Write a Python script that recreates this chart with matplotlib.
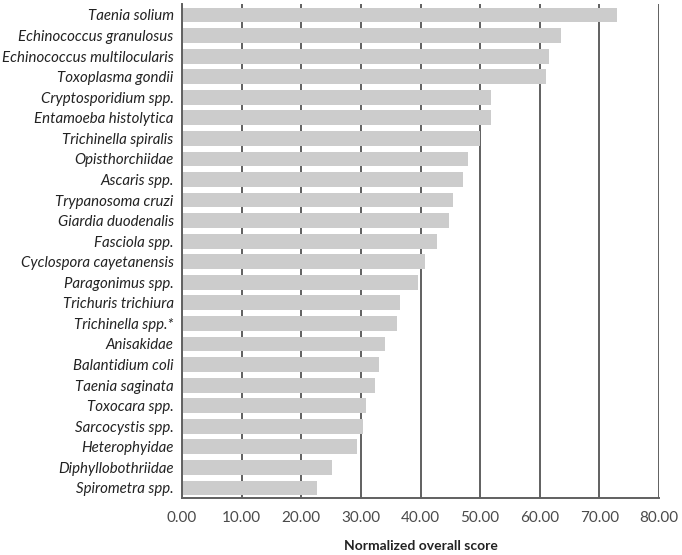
import matplotlib.pyplot as plt
import numpy as np

# === DATA ===
species = [
    "Taenia solium", "Echinococcus granulosus", "Echinococcus multilocularis",
    "Toxoplasma gondii", "Cryptosporidium spp.", "Entamoeba histolytica",
    "Trichinella spiralis", "Opisthorchiidae", "Ascaris spp.",
    "Trypanosoma cruzi", "Giardia duodenalis", "Fasciola spp.",
    "Cyclospora cayetanensis", "Paragonimus spp.", "Trichuris trichiura",
    "Trichinella spp.*", "Anisakidae", "Balantidium coli", "Taenia saginata",
    "Toxocara spp.", "Sarcocystis spp.", "Heterophyidae",
    "Diphyllobothriidae", "Spirometra spp.",
]
scores = [
    72.9, 63.6, 61.5, 61.1, 51.9, 51.9, 50.0, 48.0, 47.2, 45.5, 44.8, 42.8,
    40.8, 39.5, 36.6, 36.1, 34.1, 33.1, 32.4, 30.9, 30.4, 29.4, 25.2, 22.6,
]
xticks = [0, 10, 20, 30, 40, 50, 60, 70, 80]

# === FIGURE ===
plt.rcParams['font.family'] = ['Lato', 'DejaVu Sans']
fig = plt.figure(figsize=(6.82, 5.55), dpi=100)
ax = fig.add_axes([0.2669, 0.1027, 0.6994, 0.8901])

y = np.arange(len(species))
ax.barh(y, scores, height=0.72, color='#cccccc', zorder=2)

ax.set_xlim(0, 80)
ax.set_ylim(23.49, -0.535)
ax.set_xticks(xticks)
ax.set_xticklabels([f"{v:.2f}" for v in xticks], fontsize=11, color='#4a4a4a')
ax.set_yticks(y)
ax.set_yticklabels(species, fontsize=10.8, style='italic', color='#222222')
ax.tick_params(length=0, pad=9)
ax.tick_params(axis='y', pad=6)

ax.grid(axis='x', color='#606060', linewidth=1.4, zorder=1)
ax.set_axisbelow(True)

for s in ['top', 'right']:
    ax.spines[s].set_visible(False)
for s in ['left', 'bottom']:
    ax.spines[s].set_color('#606060')
    ax.spines[s].set_linewidth(1.4)

ax.set_xlabel("Normalized overall score", fontsize=10, fontweight='bold',
              color='#222222', labelpad=11)

plt.savefig("out.png", dpi=100)
